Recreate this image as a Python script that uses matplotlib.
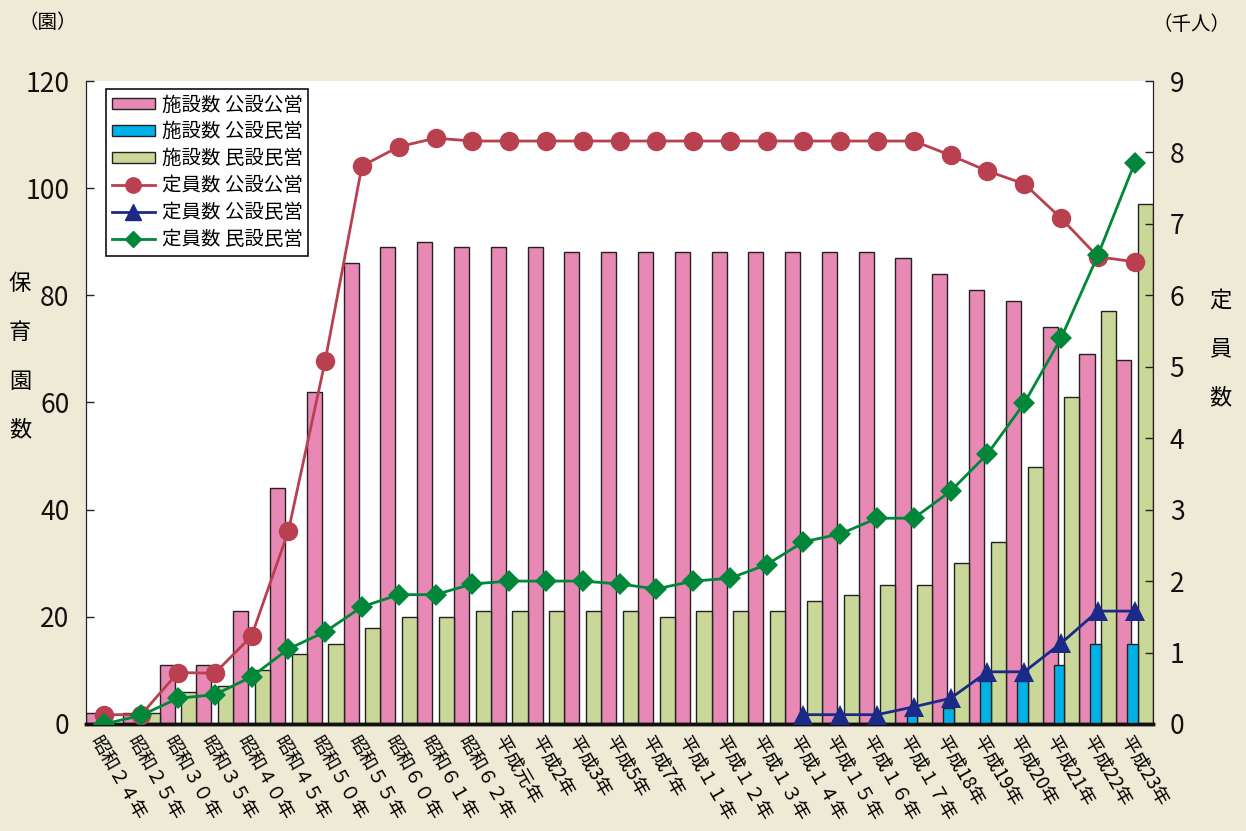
import numpy as np
import matplotlib
matplotlib.use("Agg")
import matplotlib.pyplot as plt
from matplotlib.patches import Patch
from matplotlib.lines import Line2D
from matplotlib.transforms import ScaledTranslation

plt.rcParams["font.family"] = ["Noto Sans CJK JP", "DejaVu Sans"]

# ── Data ───────────────────────────────────────────────────────────────────────
years = ["昭和２４年", "昭和２５年", "昭和３０年", "昭和３５年", "昭和４０年",
         "昭和４５年", "昭和５０年", "昭和５５年", "昭和６０年", "昭和６１年",
         "昭和６２年", "平成元年", "平成2年", "平成3年", "平成5年", "平成7年",
         "平成１１年", "平成１２年", "平成１３年", "平成１４年", "平成１５年",
         "平成１６年", "平成１７年", "平成18年", "平成19年", "平成20年",
         "平成21年", "平成22年", "平成23年"]

# facilities (園)
fac_public = [2, 2, 11, 11, 21, 44, 62, 86, 89, 90, 89, 89, 89, 88, 88, 88,
              88, 88, 88, 88, 88, 88, 87, 84, 81, 79, 74, 69, 68]
fac_pubpriv = [None] * 19 + [1, 1, 1, 2, 3, 8, 8, 11, 15, 15]
fac_private = [0, 2, 6, 7, 10, 13, 15, 18, 20, 20, 21, 21, 21, 21, 21, 20,
               21, 21, 21, 23, 24, 26, 26, 30, 34, 48, 61, 77, 97]

# capacity (千人)
cap_public = [0.13, 0.13, 0.72, 0.71, 1.23, 2.70, 5.08, 7.81, 8.08, 8.20,
              8.16, 8.16, 8.16, 8.16, 8.16, 8.16, 8.16, 8.16, 8.16, 8.16,
              8.16, 8.16, 8.16, 7.96, 7.74, 7.56, 7.08, 6.54, 6.47]
cap_pubpriv = [None] * 19 + [0.13, 0.13, 0.13, 0.24, 0.36, 0.73, 0.73,
                             1.13, 1.58, 1.58]
cap_private = [0.0, 0.12, 0.36, 0.41, 0.66, 1.05, 1.29, 1.64, 1.81, 1.81,
               1.96, 2.0, 2.0, 2.0, 1.96, 1.89, 2.0, 2.04, 2.23, 2.55, 2.66,
               2.88, 2.88, 3.26, 3.78, 4.49, 5.40, 6.56, 7.85]

# ── Colours ────────────────────────────────────────────────────────────────────
BG = "#EEEAD5"
PINK = "#E889B5"
CYAN = "#00B2E8"
LGREEN = "#C9D799"
RED = "#B9404F"
NAVY = "#1A2A86"
DGREEN = "#00873A"
EDGE = "#222222"

def arr(v):
    return np.array([np.nan if x is None else x for x in v], dtype=float)

x = np.arange(len(years))

fig = plt.figure(figsize=(12.46, 8.31), dpi=100, facecolor=BG)
ax = fig.add_axes([0.069, 0.1288, 0.8564, 0.7737])
ax.set_facecolor("white")
ax2 = ax.twinx()

# bars: pink | cyan (overlapping pink) | green, filling each category slot
ax.bar(x - 0.5, arr(fac_public), width=0.41, align="edge", color=PINK,
       edgecolor=EDGE, linewidth=1, zorder=2)
ax.bar(x + 0.09, arr(fac_private), width=0.41, align="edge", color=LGREEN,
       edgecolor=EDGE, linewidth=1, zorder=2)
ax.bar(x - 0.2, arr(fac_pubpriv), width=0.29, align="edge", color=CYAN,
       edgecolor=EDGE, linewidth=1, zorder=3)

# lines on the right axis
ax2.plot(x, arr(cap_public), color=RED, lw=2, marker="o", ms=14,
         markeredgewidth=0, zorder=5)
ax2.plot(x, arr(cap_private), color=DGREEN, lw=2, marker="D", ms=11,
         markeredgewidth=0, zorder=6)
ax2.plot(x, arr(cap_pubpriv), color=NAVY, lw=2, marker="^", ms=15,
         markeredgewidth=0, zorder=7)

# ── Axes formatting ────────────────────────────────────────────────────────────
ax.set_xlim(-0.5, len(years) - 0.5)
ax.set_ylim(0, 120)
ax.set_yticks(np.arange(0, 121, 20))
ax2.set_ylim(0, 9)
ax2.set_yticks(np.arange(0, 10, 1))

for a in (ax, ax2):
    a.spines["top"].set_visible(False)
    a.spines["left"].set_color(EDGE)
    a.spines["right"].set_color(EDGE)
    a.spines["bottom"].set_linewidth(2.5)
    a.spines["bottom"].set_color("#111111")
ax.tick_params(axis="y", direction="in", length=6, width=1, labelsize=19,
               pad=12, colors=EDGE, labelcolor="#111111")
ax2.tick_params(axis="y", direction="in", length=6, width=1, labelsize=19,
                pad=12, colors=EDGE, labelcolor="#111111")
ax.tick_params(axis="x", length=0, pad=10)
ax.set_xticks(x)
ax.set_xticklabels(years, rotation=-60, ha="left", va="center",
                   rotation_mode="anchor", fontsize=13.5)
off = ScaledTranslation(-10 / 100, 0, fig.dpi_scale_trans)
for lbl in ax.get_xticklabels():
    lbl.set_transform(lbl.get_transform() + off)

# unit labels and vertical titles
fig.text(48 / 1246, 1 - 22 / 831, "（園）", fontsize=14, ha="center", va="center")
fig.text(1192 / 1246, 1 - 25 / 831, "（千人）", fontsize=14, ha="center", va="center")
for i, ch in enumerate("保育園数"):
    fig.text(20 / 1246, 1 - (283 + 49 * i) / 831, ch, fontsize=16,
             ha="center", va="center")
for i, ch in enumerate("定員数"):
    fig.text(1220 / 1246, 1 - (300 + 49 * i) / 831, ch, fontsize=16,
             ha="center", va="center")

# legend
handles = [
    Patch(facecolor=PINK, edgecolor=EDGE, label="施設数 公設公営"),
    Patch(facecolor=CYAN, edgecolor=EDGE, label="施設数 公設民営"),
    Patch(facecolor=LGREEN, edgecolor=EDGE, label="施設数 民設民営"),
    Line2D([0], [0], color=RED, lw=2, marker="o", ms=11, label="定員数 公設公営"),
    Line2D([0], [0], color=NAVY, lw=2, marker="^", ms=11, label="定員数 公設民営"),
    Line2D([0], [0], color=DGREEN, lw=2, marker="D", ms=8, label="定員数 民設民営"),
]
leg = ax2.legend(handles=handles, loc="upper left",
                 bbox_to_anchor=(0.019, 0.988), fontsize=14, frameon=True,
                 fancybox=False, edgecolor="#111111", framealpha=1,
                 handlelength=2.2, handleheight=0.5, handletextpad=0.35,
                 labelspacing=0.3, borderpad=0.3, borderaxespad=0)
leg.get_frame().set_linewidth(1.2)
leg.set_zorder(20)

fig.savefig("out.png", dpi=100, facecolor=BG)
